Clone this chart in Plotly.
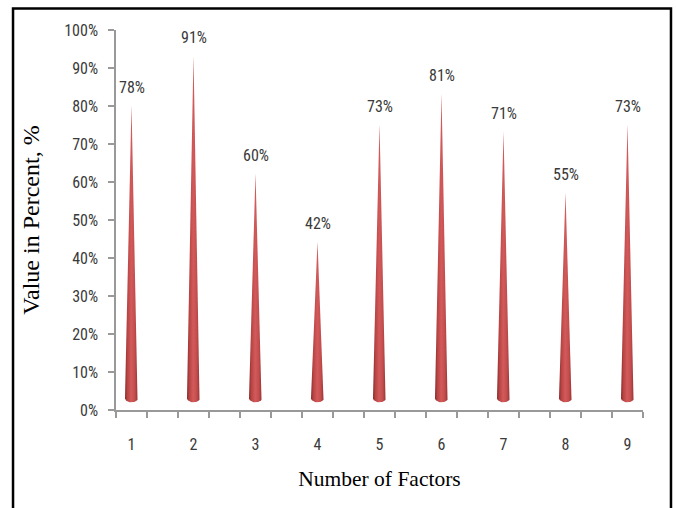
import numpy as np
import plotly.graph_objects as go

categories = [1, 2, 3, 4, 5, 6, 7, 8, 9]
values = [78, 91, 60, 42, 73, 81, 71, 55, 73]
labels = ["78%", "91%", "60%", "42%", "73%", "81%", "71%", "55%", "73%"]
y_ticks = [0, 10, 20, 30, 40, 50, 60, 70, 80, 90, 100]

# cone style constants
half_w = 0.105      # half width of cone base (x units)
base_y = 3.1        # centre of the elliptic base (y units)
base_h = 1.1        # half height of ellipse
tip_lift = 2.3      # 3D perspective lift of the apex

narrow = "Liberation Sans Narrow, Arial Narrow, Roboto Condensed, Liberation Sans, sans-serif"
serif = "Liberation Serif, Times New Roman, serif"
txt = "#3a3a3a"

fig = go.Figure()
theta = np.linspace(0, np.pi, 25)
for c, v in zip(categories, values):
    xs = [c, c + half_w] + list(c + half_w * np.cos(theta)) + [c - half_w, c]
    ys = [v + tip_lift, base_y] + list(base_y - base_h * np.sin(theta)) + [base_y, v + tip_lift]
    fig.add_trace(go.Scatter(
        x=xs, y=ys, mode="lines", line=dict(width=0, color="rgba(0,0,0,0)"),
        fill="toself",
        fillgradient=dict(type="horizontal",
                          colorscale=[[0, "#8a2c2c"], [0.2, "#b84444"], [0.5, "#d35a5a"],
                                      [0.8, "#c24c4c"], [1, "#973333"]]),
        hoverinfo="skip", showlegend=False))

for c, v, t in zip(categories, values, labels):
    fig.add_annotation(x=c, y=v, text=t, showarrow=False, yanchor="middle",
                       yshift=26.5, font=dict(family=narrow, size=16, color=txt))

fig.add_shape(type="rect", xref="paper", yref="paper",
              x0=-0.1954, x1=1.0531, y0=-0.3, y1=1.0565,
              line=dict(color="black", width=2.5), fillcolor="rgba(0,0,0,0)")

fig.update_xaxes(
    range=[0.75, 9.25], tickvals=categories, ticktext=[str(c) for c in categories],
    ticks="", showline=True, linecolor="#999", linewidth=1.5,
    showgrid=False, zeroline=False,
    tickfont=dict(family=narrow, size=16, color=txt), ticklabelstandoff=19,
    minor=dict(tick0=0.75, dtick=0.5, ticks="outside", ticklen=6, tickcolor="#999", tickwidth=1.5, showgrid=False),
    title=dict(text="Number of Factors", font=dict(family=serif, size=21.5, color="black"), standoff=18),
)
fig.update_yaxes(
    range=[0, 100], tickvals=y_ticks, ticktext=[f"{t}%" for t in y_ticks],
    ticks="outside", ticklen=6, tickcolor="#999", tickwidth=1.5,
    showline=True, linecolor="#999", linewidth=1.5, showgrid=False, zeroline=False,
    tickfont=dict(family=narrow, size=16, color=txt), ticklabelstandoff=7,
    title=dict(text="Value in Percent, %", font=dict(family=serif, size=24, color="black"), standoff=18),
)
fig.update_layout(
    width=676, height=508,
    margin=dict(l=116, r=33, t=29.5, b=98),
    plot_bgcolor="white", paper_bgcolor="white",
)
fig.write_html("out.html", config={"displayModeBar": False},
               post_script="document.body.style.margin='0';document.body.style.overflow='hidden';")
